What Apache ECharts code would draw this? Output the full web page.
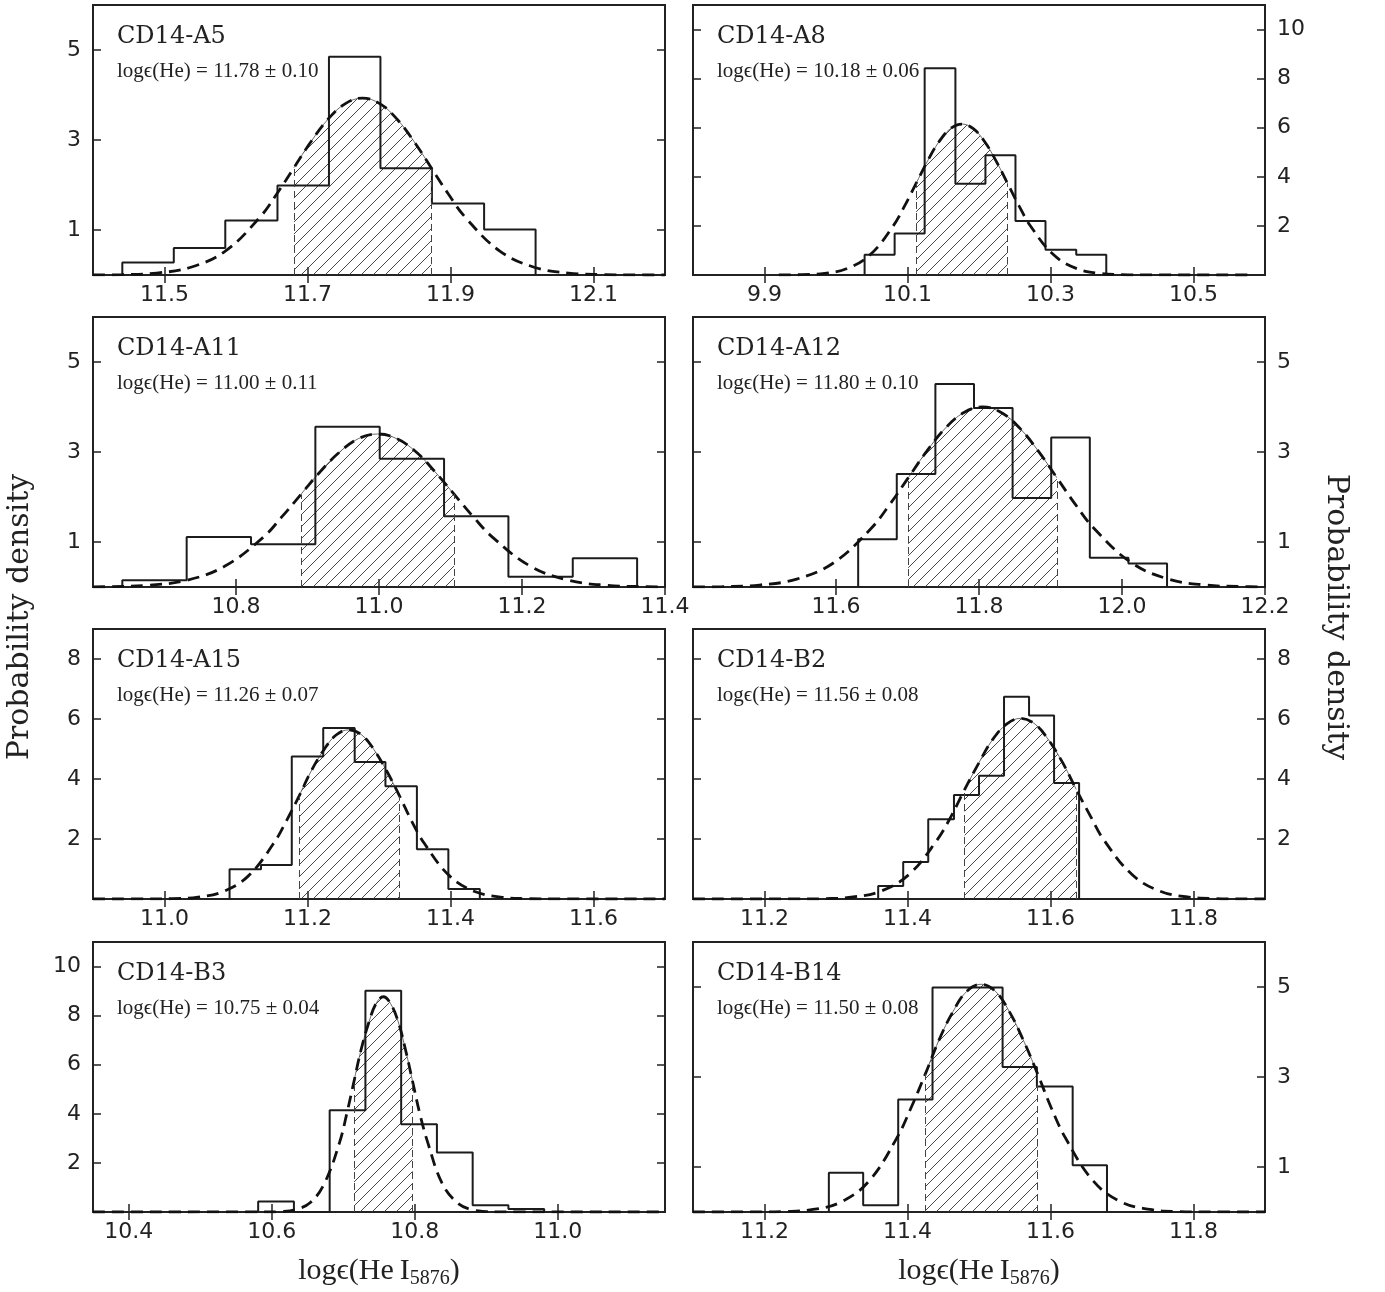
<!DOCTYPE html>
<html>
<head>
<meta charset="utf-8">
<script src="https://cdn.jsdelivr.net/npm/echarts@6/dist/echarts.min.js"></script>
<style>
html,body{margin:0;padding:0;background:#fff;}
#chart{width:1385px;height:1292px;}
</style>
</head>
<body>
<div id="chart"></div>
<script>
// ---------------- DATA ----------------
const panelNames = ['CD14-A5','CD14-A8','CD14-A11','CD14-A12','CD14-A15','CD14-B2','CD14-B3','CD14-B14'];
const fitLabels = ['11.78 ± 0.10','10.18 ± 0.06','11.00 ± 0.11','11.80 ± 0.10','11.26 ± 0.07','11.56 ± 0.08','10.75 ± 0.04','11.50 ± 0.08'];

const xMins = [11.4, 9.8, 10.6, 11.4, 10.9, 11.1, 10.35, 11.1];
const xMaxs = [12.2, 10.6, 11.4, 12.2, 11.7, 11.9, 11.15, 11.9];
const yMaxs = [6, 11, 6, 6, 9, 9, 11, 6];
const xTicks = [
  [11.5, 11.7, 11.9, 12.1],
  [9.9, 10.1, 10.3, 10.5],
  [10.8, 11.0, 11.2, 11.4],
  [11.6, 11.8, 12.0, 12.2],
  [11.0, 11.2, 11.4, 11.6],
  [11.2, 11.4, 11.6, 11.8],
  [10.4, 10.6, 10.8, 11.0],
  [11.2, 11.4, 11.6, 11.8]
];
const yTicks = [
  [1, 3, 5],
  [2, 4, 6, 8, 10],
  [1, 3, 5],
  [1, 3, 5],
  [2, 4, 6, 8],
  [2, 4, 6, 8],
  [2, 4, 6, 8, 10],
  [1, 3, 5]
];

// histogram bin edges and heights
const histEdgesA5  = [11.441, 11.513, 11.585, 11.658, 11.730, 11.802, 11.874, 11.947, 12.019];
const histHeightsA5 = [0.28, 0.60, 1.21, 1.99, 4.85, 2.37, 1.59, 1.01];
const histEdgesA8  = [10.040, 10.082, 10.124, 10.167, 10.209, 10.251, 10.293, 10.336, 10.378];
const histHeightsA8 = [0.82, 1.69, 8.42, 3.72, 4.88, 2.20, 1.03, 0.82];
const histEdgesA11 = [10.641, 10.731, 10.821, 10.911, 11.001, 11.091, 11.181, 11.271, 11.361];
const histHeightsA11 = [0.15, 1.11, 0.95, 3.56, 2.85, 1.57, 0.23, 0.64];
const histEdgesA12 = [11.631, 11.685, 11.739, 11.793, 11.847, 11.901, 11.955, 12.009, 12.063];
const histHeightsA12 = [1.06, 2.51, 4.51, 3.98, 1.98, 3.32, 0.65, 0.52];
const histEdgesA15 = [11.091, 11.135, 11.178, 11.222, 11.266, 11.309, 11.353, 11.397, 11.441];
const histHeightsA15 = [0.99, 1.13, 4.75, 5.70, 4.57, 3.76, 1.66, 0.33];
const histEdgesB2  = [11.359, 11.394, 11.429, 11.465, 11.500, 11.535, 11.570, 11.605, 11.640];
const histHeightsB2 = [0.43, 1.23, 2.66, 3.47, 4.11, 6.74, 6.12, 3.87];
const histEdgesB3  = [10.581, 10.631, 10.681, 10.731, 10.781, 10.831, 10.881, 10.931, 10.981];
const histHeightsB3 = [0.43, 0.00, 4.15, 9.01, 3.57, 2.42, 0.28, 0.12];
const histEdgesB14 = [11.290, 11.338, 11.387, 11.435, 11.484, 11.533, 11.581, 11.631, 11.679];
const histHeightsB14 = [0.87, 0.15, 2.50, 4.99, 4.99, 3.22, 2.79, 1.04];

// dashed fitted curve
const curveXA5 = [11.400,11.441,11.489,11.537,11.585,11.633,11.657,11.681,11.705,11.729,11.753,11.777,11.801,11.825,11.849,11.873,11.897,11.921,11.969,12.017,12.065,12.113,12.161,12.200];
const curveYA5 = [0.001,0.009,0.044,0.173,0.532,1.276,1.799,2.384,2.966,3.468,3.809,3.930,3.809,3.468,2.966,2.384,1.799,1.276,0.532,0.173,0.044,0.009,0.001,0.000];
const curveXA8 = [9.920,9.952,9.984,10.016,10.048,10.080,10.096,10.112,10.128,10.144,10.160,10.176,10.192,10.208,10.224,10.240,10.256,10.272,10.304,10.336,10.368,10.400,10.432,10.580];
const curveYA8 = [0.002,0.014,0.068,0.270,0.832,1.997,2.815,3.730,4.642,5.427,5.961,6.150,5.961,5.427,4.642,3.730,2.815,1.997,0.832,0.270,0.068,0.014,0.002,0.000];
const curveXA11 = [10.600,10.624,10.677,10.731,10.784,10.838,10.864,10.891,10.918,10.945,10.971,10.998,11.025,11.052,11.078,11.105,11.132,11.159,11.212,11.266,11.319,11.373,11.400];
const curveYA11 = [0.003,0.008,0.038,0.149,0.460,1.104,1.557,2.062,2.566,3.000,3.295,3.400,3.295,3.000,2.566,2.062,1.557,1.104,0.460,0.149,0.038,0.008,0.003];
const curveXA12 = [11.400,11.441,11.493,11.545,11.597,11.649,11.675,11.701,11.727,11.753,11.779,11.805,11.831,11.857,11.883,11.909,11.935,11.961,12.013,12.065,12.117,12.169,12.200];
const curveYA12 = [0.002,0.009,0.044,0.176,0.541,1.299,1.831,2.426,3.019,3.530,3.877,4.000,3.877,3.530,3.019,2.426,1.831,1.299,0.541,0.176,0.044,0.009,0.003];
const curveXA15 = [10.900,10.976,11.011,11.047,11.082,11.117,11.152,11.170,11.188,11.205,11.223,11.240,11.258,11.276,11.293,11.311,11.329,11.346,11.364,11.399,11.434,11.470,11.505,11.540,11.700];
const curveYA15 = [0.000,0.002,0.012,0.063,0.248,0.763,1.831,2.582,3.421,4.257,4.977,5.466,5.640,5.466,4.977,4.257,3.421,2.582,1.831,0.763,0.248,0.063,0.012,0.002,0.000];
const curveXB2 = [11.100,11.246,11.285,11.324,11.363,11.402,11.441,11.461,11.480,11.500,11.519,11.539,11.558,11.578,11.597,11.617,11.636,11.656,11.675,11.714,11.753,11.792,11.831,11.870,11.900];
const curveYB2 = [0.000,0.002,0.013,0.067,0.264,0.815,1.955,2.756,3.651,4.544,5.313,5.835,6.020,5.835,5.313,4.544,3.651,2.756,1.955,0.815,0.264,0.067,0.013,0.002,0.000];
const curveXB3 = [10.350,10.592,10.613,10.633,10.654,10.674,10.695,10.705,10.715,10.725,10.736,10.746,10.756,10.766,10.777,10.787,10.797,10.807,10.818,10.838,10.859,10.879,10.900,10.920,11.150];
const curveYB3 = [0.000,0.003,0.019,0.097,0.385,1.187,2.848,4.015,5.319,6.620,7.740,8.500,8.770,8.500,7.740,6.620,5.319,4.015,2.848,1.187,0.385,0.097,0.019,0.003,0.000];
const curveXB14 = [11.100,11.189,11.228,11.268,11.307,11.346,11.385,11.405,11.425,11.444,11.464,11.483,11.503,11.523,11.542,11.562,11.582,11.601,11.621,11.660,11.699,11.739,11.778,11.817,11.900];
const curveYB14 = [0.000,0.002,0.011,0.056,0.222,0.685,1.643,2.317,3.069,3.819,4.465,4.904,5.060,4.904,4.465,3.819,3.069,2.317,1.643,0.685,0.222,0.056,0.011,0.002,0.000];

// hatched interval bounds
const hatchLo = [11.681, 10.112, 10.891, 11.701, 11.188, 11.480, 10.715, 11.425];
const hatchHi = [11.873, 10.240, 11.105, 11.909, 11.329, 11.636, 10.797, 11.582];

// ---------------- BUILD ----------------
const histEdges = [histEdgesA5, histEdgesA8, histEdgesA11, histEdgesA12, histEdgesA15, histEdgesB2, histEdgesB3, histEdgesB14];
const histHeights = [histHeightsA5, histHeightsA8, histHeightsA11, histHeightsA12, histHeightsA15, histHeightsB2, histHeightsB3, histHeightsB14];
const curveX = [curveXA5, curveXA8, curveXA11, curveXA12, curveXA15, curveXB2, curveXB3, curveXB14];
const curveY = [curveYA5, curveYA8, curveYA11, curveYA12, curveYA15, curveYB2, curveYB3, curveYB14];

function makeHatch() {
  const s = 12;
  const c = document.createElement('canvas');
  c.width = s; c.height = s;
  const g = c.getContext('2d');
  g.strokeStyle = '#333';
  g.lineWidth = 0.9;
  g.beginPath();
  g.moveTo(0, s); g.lineTo(s, 0);
  g.moveTo(-s / 2, s / 2); g.lineTo(s / 2, -s / 2);
  g.moveTo(s / 2, s * 1.5); g.lineTo(s * 1.5, s / 2);
  g.stroke();
  return c;
}
const hatchImg = makeHatch();

const colLeft = [93, 693];
const rowTop = [5, 317, 629, 942];
const W = 572, H = 270;
const INK = '#222';
const tickFont = 'DejaVu Sans';

const grids = [], xAxes = [], yAxes = [], series = [], graphics = [];

for (let i = 0; i < 8; i++) {
  const col = i % 2, row = Math.floor(i / 2);
  const left = colLeft[col], top = rowTop[row];
  grids.push({ left: left, top: top, width: W, height: H, show: true, borderColor: INK, borderWidth: 2, backgroundColor: 'transparent' });

  const isBottom = row === 3;
  const xBase = {
    gridIndex: i, type: 'value', min: xMins[i], max: xMaxs[i],
    axisLine: { show: false },
    splitLine: { show: false },
    axisTick: { show: true, inside: true, length: 8, customValues: xTicks[i], lineStyle: { color: INK, width: 1.5 } }
  };
  xAxes.push(Object.assign({}, xBase, {
    position: 'bottom',
    axisLabel: { show: true, customValues: xTicks[i], formatter: v => Number(v).toFixed(1), fontFamily: tickFont, fontSize: 22, color: INK, margin: 9 },
    name: isBottom ? '{m|log\u03f5(He\u2009I}{s|5876}{m|)}' : '',
    nameLocation: 'middle', nameGap: 42,
    nameTextStyle: { rich: {
      m: { fontFamily: 'Liberation Serif', fontSize: 30, color: INK },
      s: { fontFamily: 'Liberation Serif', fontSize: 20, color: INK, padding: [15, 0, 0, 0] }
    } }
  }));
  xAxes.push(Object.assign({}, xBase, { position: 'top', axisLabel: { show: false } }));

  const yBase = {
    gridIndex: i, type: 'value', min: 0, max: yMaxs[i],
    axisLine: { show: false },
    splitLine: { show: false },
    axisTick: { show: true, inside: true, length: 8, customValues: yTicks[i], lineStyle: { color: INK, width: 1.5 } }
  };
  const labelSide = col === 0 ? 'left' : 'right';
  const otherSide = col === 0 ? 'right' : 'left';
  yAxes.push(Object.assign({}, yBase, {
    position: labelSide,
    axisLabel: { show: true, customValues: yTicks[i], formatter: v => String(Math.round(v)), fontFamily: tickFont, fontSize: 22, color: INK, margin: 12 }
  }));
  yAxes.push(Object.assign({}, yBase, { position: otherSide, axisLabel: { show: false } }));

  const xi = 2 * i, yi = 2 * i;

  // fitted curve points
  const cx = curveX[i], cy = curveY[i];
  const curve = cx.map((x, k) => [x, cy[k]]);
  const lo = hatchLo[i], hi = hatchHi[i];
  const hatchPts = curve.filter(p => p[0] >= lo - 1e-9 && p[0] <= hi + 1e-9);
  const yLo = hatchPts[0][1], yHi = hatchPts[hatchPts.length - 1][1];

  series.push({
    type: 'line', xAxisIndex: xi, yAxisIndex: yi, data: hatchPts,
    smooth: 0.4, symbol: 'none', silent: true, animation: false, z: 1,
    lineStyle: { width: 0.8, color: '#444' },
    areaStyle: { color: { image: hatchImg, repeat: 'repeat' }, opacity: 1 },
    markLine: {
      silent: true, symbol: ['none', 'none'], animation: false,
      label: { show: false },
      lineStyle: { type: [7, 4], width: 1, color: '#444' },
      emphasis: { disabled: true },
      data: [
        [{ coord: [lo, 0] }, { coord: [lo, yLo] }],
        [{ coord: [hi, 0] }, { coord: [hi, yHi] }]
      ]
    }
  });

  // histogram (step outline)
  const e = histEdges[i], h = histHeights[i];
  const histPts = [[e[0], 0]];
  for (let k = 0; k < h.length; k++) histPts.push([e[k], h[k]]);
  histPts.push([e[e.length - 1], 0]);
  series.push({
    type: 'line', xAxisIndex: xi, yAxisIndex: yi, data: histPts, step: 'end',
    symbol: 'none', silent: true, animation: false, z: 2,
    lineStyle: { width: 2, color: '#1c1c1c' }
  });

  // dashed fitted curve
  series.push({
    type: 'line', xAxisIndex: xi, yAxisIndex: yi, data: curve,
    smooth: 0.4, symbol: 'none', silent: true, animation: false, z: 3,
    lineStyle: { width: 2.8, color: '#111', type: [12, 7] }
  });

  graphics.push({
    type: 'text', x: left + 24, y: top + 32, z: 10,
    style: { text: panelNames[i], font: '24px "DejaVu Serif"', fill: INK, textAlign: 'left', textVerticalAlign: 'middle' }
  });
  graphics.push({
    type: 'text', x: left + 24, y: top + 66, z: 10,
    style: { text: 'log\u03f5(He) = ' + fitLabels[i], font: '21px "Liberation Serif"', fill: INK, textAlign: 'left', textVerticalAlign: 'middle' }
  });
}

graphics.push({
  type: 'text', x: 20, y: 617, rotation: Math.PI / 2, z: 10,
  style: { text: 'Probability density', font: '30px "DejaVu Serif"', fill: INK, textAlign: 'center', textVerticalAlign: 'middle' }
});
graphics.push({
  type: 'text', x: 1336, y: 617, rotation: -Math.PI / 2, z: 10,
  style: { text: 'Probability density', font: '30px "DejaVu Serif"', fill: INK, textAlign: 'center', textVerticalAlign: 'middle' }
});

const chart = echarts.init(document.getElementById('chart'), null, { renderer: 'canvas' });
chart.setOption({
  backgroundColor: '#fff',
  animation: false,
  grid: grids,
  xAxis: xAxes,
  yAxis: yAxes,
  series: series,
  graphic: { elements: graphics }
});
</script>
</body>
</html>
